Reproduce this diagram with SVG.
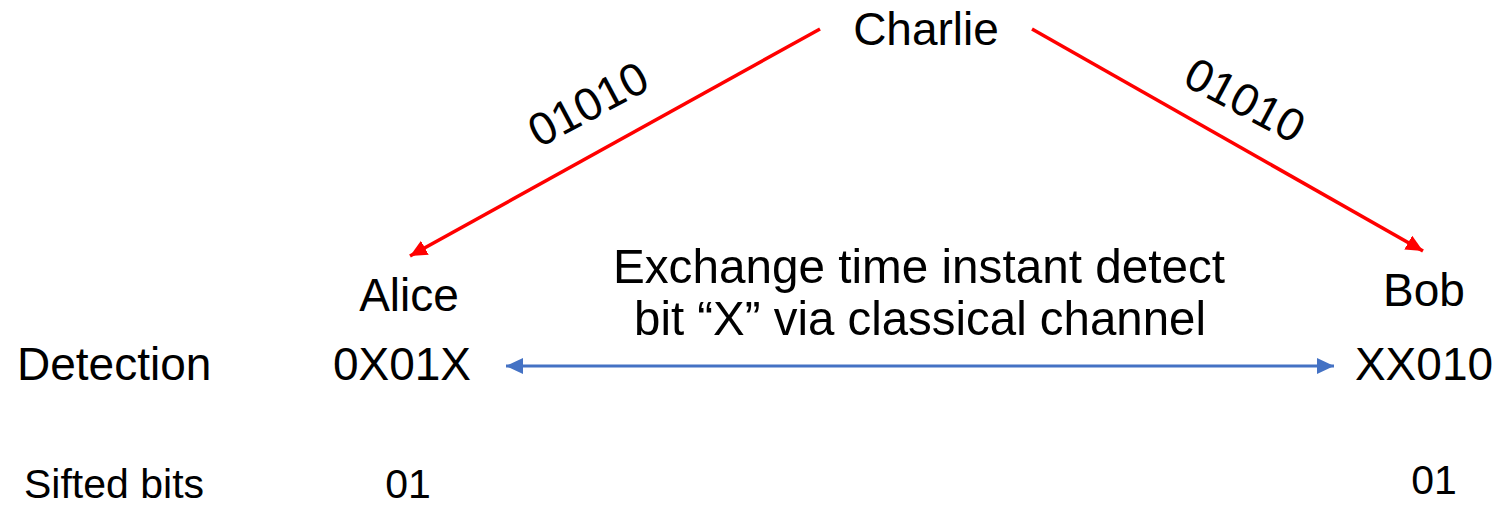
<svg xmlns="http://www.w3.org/2000/svg" width="1501" height="505" viewBox="0 0 1501 505">
  <style>
    text { font-family: "Liberation Sans", Arial, sans-serif; fill: #000; }
    .big { font-size: 46px; }
    .note { font-size: 49px; }
    .small { font-size: 41px; }
    .mid { text-anchor: middle; }
    .red { stroke: #FF0000; stroke-width: 3.5; fill: none; }
    .blue { stroke: #4472C4; stroke-width: 3; fill: none; }
  </style>
  <defs>
    <marker id="redHead" markerUnits="userSpaceOnUse" markerWidth="20" markerHeight="18" refX="17" refY="8" orient="auto">
      <path d="M0,0 L17,8 L0,16 Z" fill="#FF0000"/>
    </marker>
    <marker id="blueHead" markerUnits="userSpaceOnUse" markerWidth="20" markerHeight="18" refX="17" refY="8" orient="auto-start-reverse">
      <path d="M0,0 L17,8 L0,16 Z" fill="#4472C4"/>
    </marker>
  </defs>
  <rect width="1501" height="505" fill="#FFFFFF"/>

  <g id="connectors">
    <line class="red" x1="820" y1="29" x2="410" y2="256" marker-end="url(#redHead)"/>
    <line class="red" x1="1032" y1="29" x2="1423" y2="251" marker-end="url(#redHead)"/>
    <line class="blue" x1="506" y1="366" x2="1334" y2="366" marker-start="url(#blueHead)" marker-end="url(#blueHead)"/>
    <text class="big mid" transform="translate(588,104) rotate(-28)" y="16">01010</text>
    <text class="big mid" transform="translate(1245,100) rotate(28)" y="16">01010</text>
    <text class="note mid" x="919" y="283" textLength="612" lengthAdjust="spacingAndGlyphs">Exchange time instant detect</text>
    <text class="note mid" x="920" y="335" textLength="572" lengthAdjust="spacingAndGlyphs">bit “X” via classical channel</text>
  </g>

  <g id="charlie">
    <text class="big mid" x="926" y="45">Charlie</text>
  </g>

  <g id="alice">
    <text class="big mid" x="409" y="311">Alice</text>
    <text class="big mid" x="402" y="380">0X01X</text>
    <text class="small mid" x="408" y="498">01</text>
  </g>

  <g id="bob">
    <text class="big mid" x="1424" y="306">Bob</text>
    <text class="big mid" x="1424" y="380">XX010</text>
    <text class="small mid" x="1434" y="494">01</text>
  </g>

  <g id="row-labels">
    <text class="big" x="17" y="380">Detection</text>
    <text class="small" x="24" y="498">Sifted bits</text>
  </g>
</svg>
